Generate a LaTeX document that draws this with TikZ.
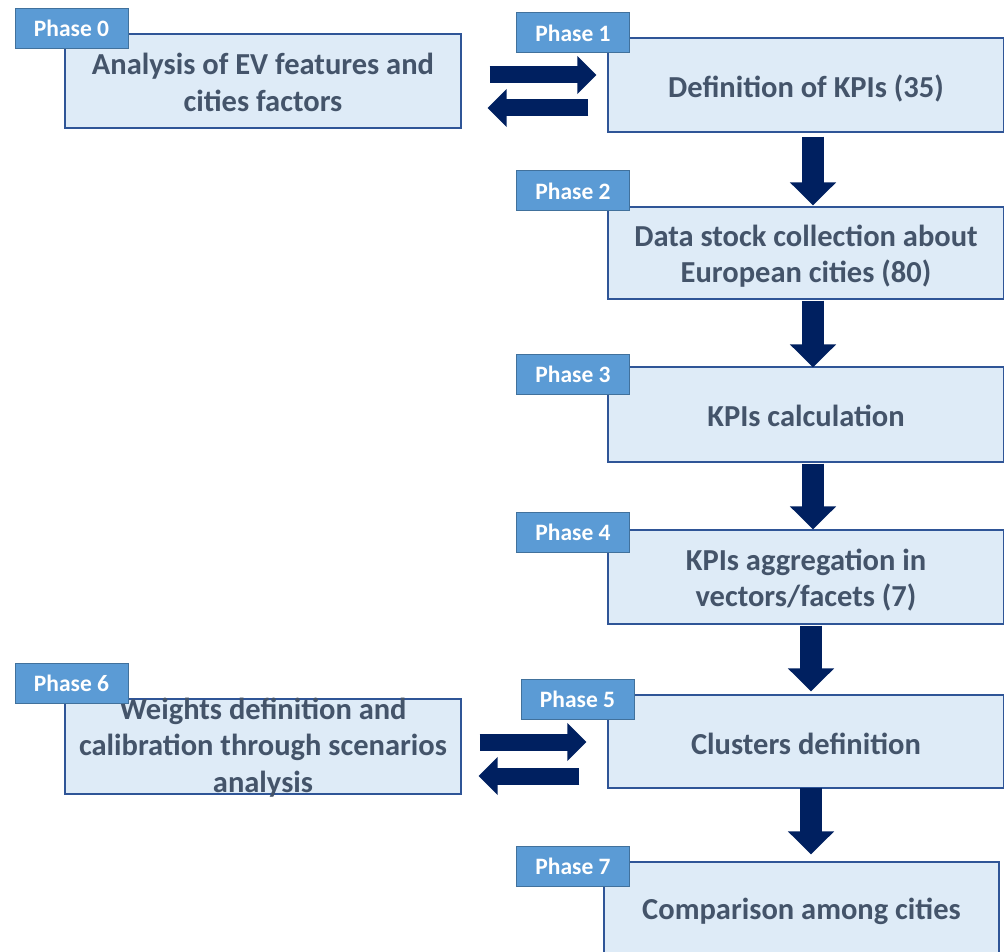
\documentclass[tikz,border=0pt]{standalone}
\usepackage{fontspec}
\setmainfont{Carlito}
\usetikzlibrary{arrows.meta,calc}
\definecolor{boxfill}{HTML}{DEEBF7}
\definecolor{boxdraw}{HTML}{2F5597}
\definecolor{labfill}{HTML}{5B9BD5}
\definecolor{labdraw}{HTML}{41719C}
\definecolor{txtcol}{HTML}{44546A}
\definecolor{arrcol}{HTML}{002060}
\tikzset{
  mainbox/.style={draw=boxdraw, fill=boxfill, line width=1.3pt, inner sep=0pt, minimum width=396pt},
  maintext/.style={text=txtcol, font=\fontsize{30.5}{36.6}\selectfont\bfseries, align=center, inner sep=0pt},
  phaselab/.style={draw=labdraw, fill=labfill, line width=1pt, inner sep=0pt, minimum width=113pt, minimum height=40pt, text=white, font=\fontsize{23.5}{27}\selectfont\bfseries},
  blockV/.style={draw=arrcol, line width=22pt, -{Triangle[width=45pt,length=23pt]}},
  blockH/.style={draw=arrcol, line width=17pt, -{Triangle[width=37pt,length=19pt]}},
}
\begin{document}
\begin{tikzpicture}[x=1pt,y=-1pt]
\useasboundingbox (0,0) rectangle (1004,952);
% main boxes
\node[mainbox, minimum height=94pt] (b0) at (263,81) {};
\node[mainbox, minimum height=94pt] (b1) at (806,85) {};
\node[mainbox, minimum height=92pt] (b2) at (806,253) {};
\node[mainbox, minimum height=95pt] (b3) at (806,414.5) {};
\node[mainbox, minimum height=94pt] (b4) at (806,577) {};
\node[mainbox, minimum height=93pt] (b5) at (806,741.5) {};
\node[mainbox, minimum height=95pt] (b6) at (263,746.5) {};
\node[mainbox, minimum height=108pt, minimum width=395pt] (b7) at (801.5,916) {};
% texts
\node[maintext] (t0) at (263,82.5) {Analysis of EV features and\\cities factors};
\node[maintext] (t1) at (806,88) {Definition of KPIs (35)};
\node[maintext] (t2) at (806,256) {Data stock collection about\\European cities (80)};
\node[maintext] (t3) at (806,415.5) {KPIs calculation};
\node[maintext] (t4) at (806,580) {KPIs aggregation in\\vectors/facets (7)};
\node[maintext] (t5) at (806,744) {Clusters definition};
\node[maintext] (t6) at (263,747.5) {Weights definition and\\calibration through scenarios\\analysis};
\node[maintext] (t7) at (801.5,911.5) {Comparison among cities};
% phase labels
\node[phaselab] (l0) at (71.5,28.5) {Phase 0};
\node[phaselab] (l1) at (573,33) {Phase 1};
\node[phaselab] (l2) at (573,191) {Phase 2};
\node[phaselab] (l3) at (573,374) {Phase 3};
\node[phaselab] (l4) at (573,532) {Phase 4};
\node[phaselab] (l5) at (577.5,699.5) {Phase 5};
\node[phaselab] (l6) at (71.5,683.5) {Phase 6};
\node[phaselab] (l7) at (573,866.5) {Phase 7};
% vertical arrows
\draw[blockV] ($(b1.south)+(7,4)$) -- ($(b2.north)+(7,-1)$);
\draw[blockV] ($(b2.south)+(7,1)$) -- ($(b3.north)+(7,1)$);
\draw[blockV] ($(b3.south)+(7,1)$) -- ($(b4.north)+(7,0)$);
\draw[blockV] ($(b4.south)+(5,1)$) -- ($(b5.north)+(5,-3)$);
\draw[blockV] ($(b5.south)+(5,-1)$) -- ($(b7.north)+(9.5,-7)$);
% horizontal arrows
\draw[blockH] ($(b0.east)+(28,-6)$) -- ($(b1.west)+(-11,-10)$);
\draw[blockH] ($(b1.west)+(-19,23)$) -- ($(b0.east)+(26,27)$);
\draw[blockH] ($(b6.east)+(18,-4.5)$) -- ($(b5.west)+(-21,0.5)$);
\draw[blockH] ($(b5.west)+(-28,34.5)$) -- ($(b6.east)+(17,29.5)$);
\end{tikzpicture}
\end{document}
